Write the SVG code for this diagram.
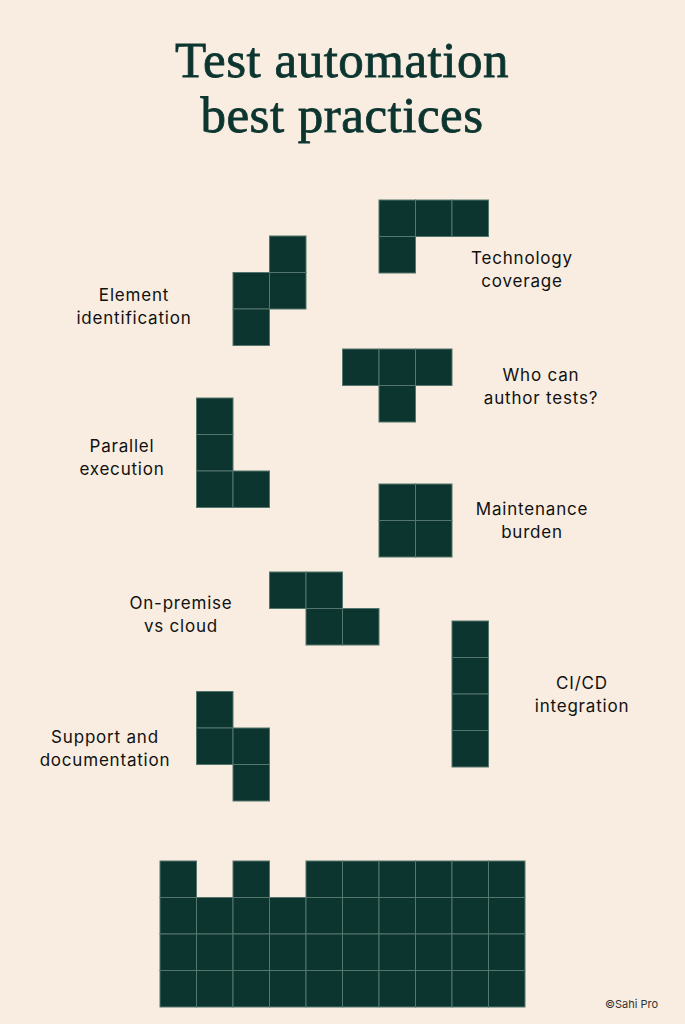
<svg xmlns="http://www.w3.org/2000/svg" width="685" height="1024" viewBox="0 0 685 1024">
<style>
.c{fill:#0d3530;stroke:#55766d;stroke-width:1}
.t{font-family:"Liberation Serif",serif;font-size:51px;fill:#0d3530;stroke:#0d3530;stroke-width:0.8;text-anchor:middle;letter-spacing:0.5px}
.l{font-family:Inter,"Liberation Sans",sans-serif;font-size:17px;fill:#111;text-anchor:middle;letter-spacing:0.8px}
.s{font-family:Inter,"Liberation Sans",sans-serif;font-size:11px;fill:#333}
</style>
<defs><rect id="q" class="c" width="36.5" height="36.5"/></defs>
<rect width="685" height="1024" fill="#f8ede0"/>
<g id="title"><text class="t" x="342" y="77">Test automation</text><text class="t" x="342" y="132">best practices</text></g>
<g id="technology"><use href="#q" x="379" y="200"/><use href="#q" x="415.5" y="200"/><use href="#q" x="452" y="200"/><use href="#q" x="379" y="236.5"/>
<text class="l" x="522" y="264">Technology</text><text class="l" x="522" y="287">coverage</text></g>
<g id="element"><use href="#q" x="269.5" y="236"/><use href="#q" x="233" y="272.5"/><use href="#q" x="269.5" y="272.5"/><use href="#q" x="233" y="309"/>
<text class="l" x="134" y="301">Element</text><text class="l" x="134" y="324">identification</text></g>
<g id="who"><use href="#q" x="342.5" y="349"/><use href="#q" x="379" y="349"/><use href="#q" x="415.5" y="349"/><use href="#q" x="379" y="385.5"/>
<text class="l" x="541" y="381">Who can</text><text class="l" x="541" y="404">author tests?</text></g>
<g id="parallel"><use href="#q" x="196.5" y="398"/><use href="#q" x="196.5" y="434.5"/><use href="#q" x="196.5" y="471"/><use href="#q" x="233" y="471"/>
<text class="l" x="122" y="452">Parallel</text><text class="l" x="122" y="475">execution</text></g>
<g id="maintenance"><use href="#q" x="379" y="484"/><use href="#q" x="415.5" y="484"/><use href="#q" x="379" y="520.5"/><use href="#q" x="415.5" y="520.5"/>
<text class="l" x="532" y="515">Maintenance</text><text class="l" x="532" y="538">burden</text></g>
<g id="onpremise"><use href="#q" x="269.5" y="572"/><use href="#q" x="306" y="572"/><use href="#q" x="306" y="608.5"/><use href="#q" x="342.5" y="608.5"/>
<text class="l" x="181" y="609">On-premise</text><text class="l" x="181" y="632">vs cloud</text></g>
<g id="cicd"><use href="#q" x="452" y="621"/><use href="#q" x="452" y="657.5"/><use href="#q" x="452" y="694"/><use href="#q" x="452" y="730.5"/>
<text class="l" x="582" y="689">CI/CD</text><text class="l" x="582" y="712">integration</text></g>
<g id="support"><use href="#q" x="196.5" y="691.5"/><use href="#q" x="196.5" y="728"/><use href="#q" x="233" y="728"/><use href="#q" x="233" y="764.5"/>
<text class="l" x="105" y="743">Support and</text><text class="l" x="105" y="766">documentation</text></g>
<g id="stack">
<use href="#q" x="160" y="861"/><use href="#q" x="233" y="861"/><use href="#q" x="306" y="861"/><use href="#q" x="342.5" y="861"/><use href="#q" x="379" y="861"/><use href="#q" x="415.5" y="861"/><use href="#q" x="452" y="861"/><use href="#q" x="488.5" y="861"/>
<g id="r1"><use href="#q" x="160" y="897.5"/><use href="#q" x="196.5" y="897.5"/><use href="#q" x="233" y="897.5"/><use href="#q" x="269.5" y="897.5"/><use href="#q" x="306" y="897.5"/><use href="#q" x="342.5" y="897.5"/><use href="#q" x="379" y="897.5"/><use href="#q" x="415.5" y="897.5"/><use href="#q" x="452" y="897.5"/><use href="#q" x="488.5" y="897.5"/></g>
<use href="#r1" y="36.5"/><use href="#r1" y="73"/>
</g>
<text class="s" x="605" y="1008">©Sahi Pro</text>
</svg>
